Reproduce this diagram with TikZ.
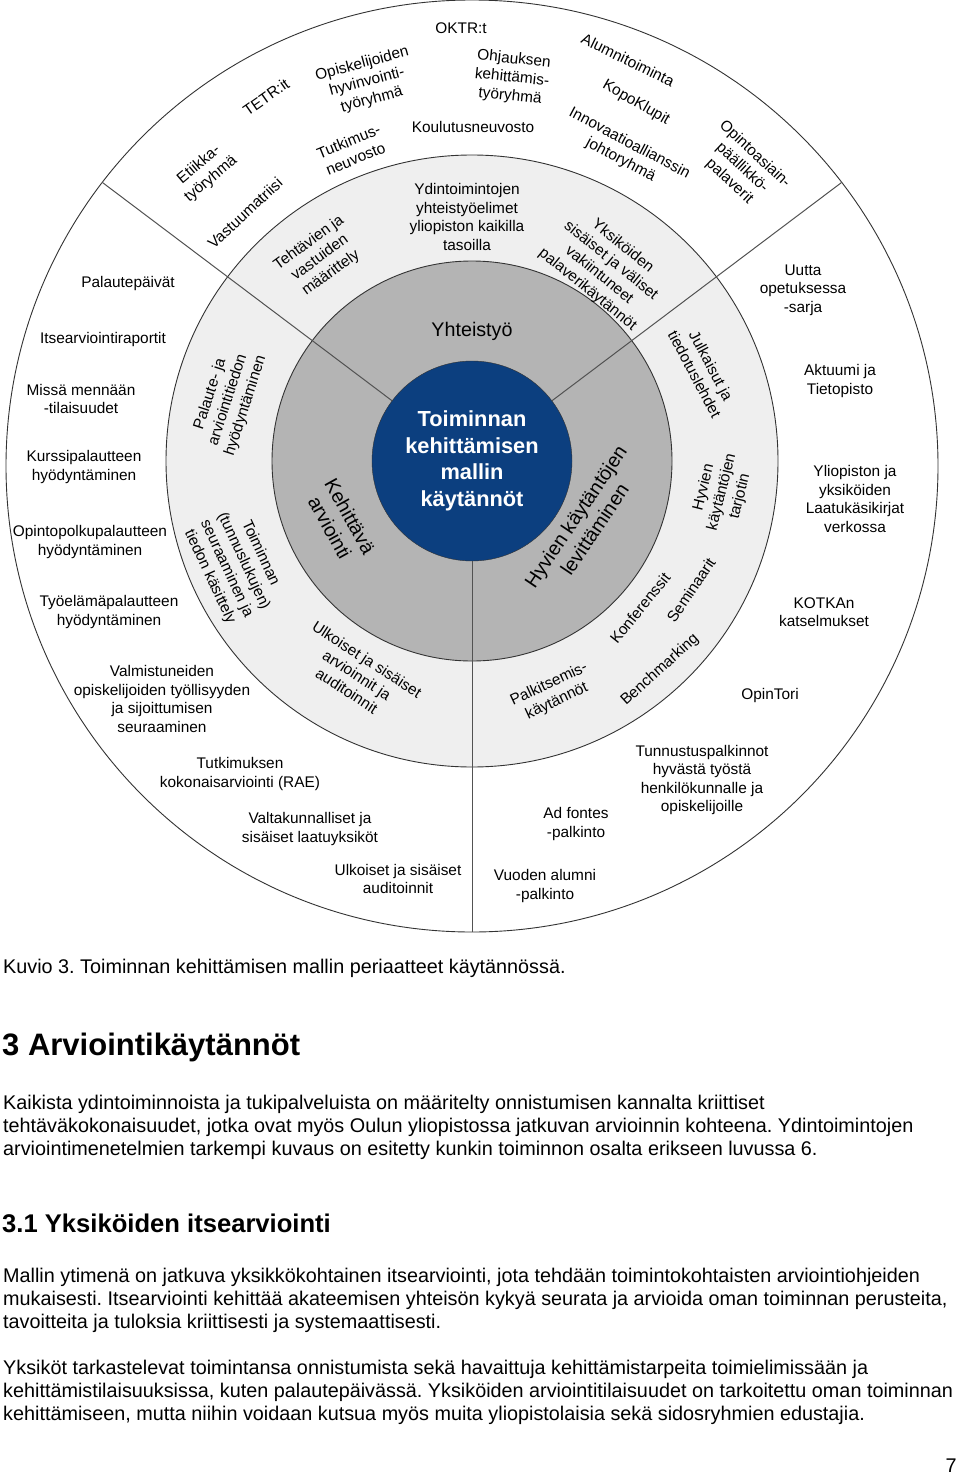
\documentclass[tikz,border=0pt]{standalone}
\usepackage{fontspec}
\setmainfont{Liberation Sans}
\frenchspacing
\definecolor{coreblue}{HTML}{0C3F7F}
\definecolor{ringdark}{HTML}{B4B4B4}
\definecolor{ringlight}{HTML}{EFEFEF}
\definecolor{edge}{HTML}{333333}
\tikzset{ring/.style={draw=edge,line width=.9pt},spoke/.style={draw=edge!85,line width=1pt},lbl/.style={align=center,inner sep=0pt,font=\fontsize{15.4}{18.6}\selectfont},big/.style={align=center,inner sep=0pt,font=\fontsize{19.7}{23}\selectfont},core/.style={circle,draw=edge,fill=coreblue,minimum size=200pt,inner sep=0pt,outer sep=0pt,align=center,text=white,font=\bfseries\fontsize{21.8}{26.7}\selectfont},body/.style={anchor=west,align=left,inner sep=0pt,font=\fontsize{19.8}{23}\selectfont}}
\begin{document}
\begin{tikzpicture}[x=1pt,y=-1pt]
\useasboundingbox (0,0) rectangle (960,1482);
\fill[white] (0,0) rectangle (960,1482);
\draw[ring,fill=white] (472,466) circle[radius=466];
\draw[ring,fill=ringlight] (472,461) circle[radius=306];
\draw[ring,fill=ringdark] (472,461) circle[radius=200];
\node[core](core) at (472,461){Toiminnan\\kehittämisen\\mallin\\käytännöt};
\coordinate (rimL) at (102.3,182.4);
\coordinate (rimR) at (841.7,182.4);
\coordinate (rimB) at (472,932);
\draw[spoke](core.143)--(rimL);
\draw[spoke](core.37)--(rimR);
\draw[spoke](core.-90)--(rimB);
\foreach \n/\x/\y/\r/\t in {okt/461/28/0/{OKTR:t},ohj/512/78/-6/{Ohjauksen\\kehittämis-\\työryhmä},koul/473/127/0/{Koulutusneuvosto},opis/367/82/15/{Opiskelijoiden\\hyvinvointi-\\työryhmä},tutk/352/150/22/{Tutkimus-\\neuvosto},tetr/266/97/35/{TETR:it},etii/205/172/40/{Etiikka-\\työryhmä},vast/245/213/43/{Vastuumatriisi},alum/628/60/-26/{Alumnitoiminta},kopo/636/103/-30/{KopoKlupit},inno/625/152/-28/{Innovaatioallianssin\\johtoryhmä},opin/742/168/-43/{Opintoasiain-\\päällikkö-\\palaverit},ydin/467/217/0/{Ydintoimintojen\\yhteistyöelimet\\yliopiston kaikilla\\tasoilla},teht/320/258/36/{Tehtävien ja\\vastuiden\\määrittely},yksi/605/268/-39/{Yksiköiden\\sisäiset ja väliset\\vakiintuneet\\palaverikäytännöt},pal/228/400/72/{Palaute- ja\\arviointitiedon\\hyödyntäminen},toim/235/565/-65/{Toiminnan\\(tunnuslukujen)\\seuraaminen ja\\tiedon käsittely},ulk/357/675/-33/{Ulkoiset ja sisäiset\\arvioinnit ja\\auditoinnit},julk/703/370/-62/{Julkaisut ja\\tiedotuslehdet},tarj/722/492/76/{Hyvien\\käytäntöjen\\tarjotin},konf/640/608/51/{Konferenssit},semi/691/590/56/{Seminaarit},bench/660/670/42/{Benchmarking},palk/553/693/25/{Palkitsemis-\\käytännöt}}{\node[lbl,rotate=\r](\n) at (\x,\y){\t};}
\foreach \n/\x/\y/\t in {pday/128/284/{Palautepäivät},irap/103/340/{Itsearviointiraportit},miss/81/399/{Missä mennään\\-tilaisuudet},kurs/84/467/{Kurssipalautteen\\hyödyntäminen},opol/90/542/{Opintopolkupalautteen\\hyödyntäminen},tyel/109/612/{Työelämäpalautteen\\hyödyntäminen},valm/162/699/{Valmistuneiden\\opiskelijoiden työllisyyden\\ja sijoittumisen\\seuraaminen},rae/240/774/{Tutkimuksen\\kokonaisarviointi (RAE)},laat/310/829/{Valtakunnalliset ja\\sisäiset laatuyksiköt},audi/398/879/{Ulkoiset ja sisäiset\\auditoinnit},uutt/803/290/{Uutta\\opetuksessa\\-sarja},aktu/840/381/{Aktuumi ja\\Tietopisto},kasi/855/499/{Yliopiston ja\\yksiköiden\\Laatukäsikirjat\\verkossa},kotk/824/612/{KOTKAn\\katselmukset},tori/770/696/{OpinTori},tunn/702/780/{Tunnustuspalkinnot\\hyvästä työstä\\henkilökunnalle ja\\opiskelijoille},adf/576/824/{Ad fontes\\-palkinto},alpk/545/886/{Vuoden alumni\\-palkinto}}{\node[lbl](\n) at (\x,\y){\t};}
\node[big](yht) at (472,331){Yhteistyö};
\node[big,rotate=-61](keh) at (340,522){Kehittävä\\arviointi};
\node[big,rotate=56](levi) at (585,523){Hyvien käytäntöjen\\levittäminen};
\node[body](capt) at (3,968){Kuvio 3. Toiminnan kehittämisen mallin periaatteet käytännössä.};
\node[body,font=\bfseries\fontsize{31}{36}\selectfont](h3) at (2,1047){3 Arviointikäytännöt};
\node[body](par1) at (3,1127){Kaikista ydintoiminnoista ja tukipalveluista on määritelty onnistumisen kannalta kriittiset\\tehtäväkokonaisuudet, jotka ovat myös Oulun yliopistossa jatkuvan arvioinnin kohteena. Ydintoimintojen\\arviointimenetelmien tarkempi kuvaus on esitetty kunkin toiminnon osalta erikseen luvussa 6.};
\node[body,font=\bfseries\fontsize{25.6}{30}\selectfont](h31) at (2,1223){3.1 Yksiköiden itsearviointi};
\node[body](par2) at (3,1300){Mallin ytimenä on jatkuva yksikkökohtainen itsearviointi, jota tehdään toimintokohtaisten arviointiohjeiden\\mukaisesti. Itsearviointi kehittää akateemisen yhteisön kykyä seurata ja arvioida oman toiminnan perusteita,\\tavoitteita ja tuloksia kriittisesti ja systemaattisesti.};
\node[body](par3) at (3,1392){Yksiköt tarkastelevat toimintansa onnistumista sekä havaittuja kehittämistarpeita toimielimissään ja\\kehittämistilaisuuksissa, kuten palautepäivässä. Yksiköiden arviointitilaisuudet on tarkoitettu oman toiminnan\\kehittämiseen, mutta niihin voidaan kutsua myös muita yliopistolaisia sekä sidosryhmien edustajia.};
\node[body,anchor=center](pnum) at (951,1466){7};
\end{tikzpicture}
\end{document}
